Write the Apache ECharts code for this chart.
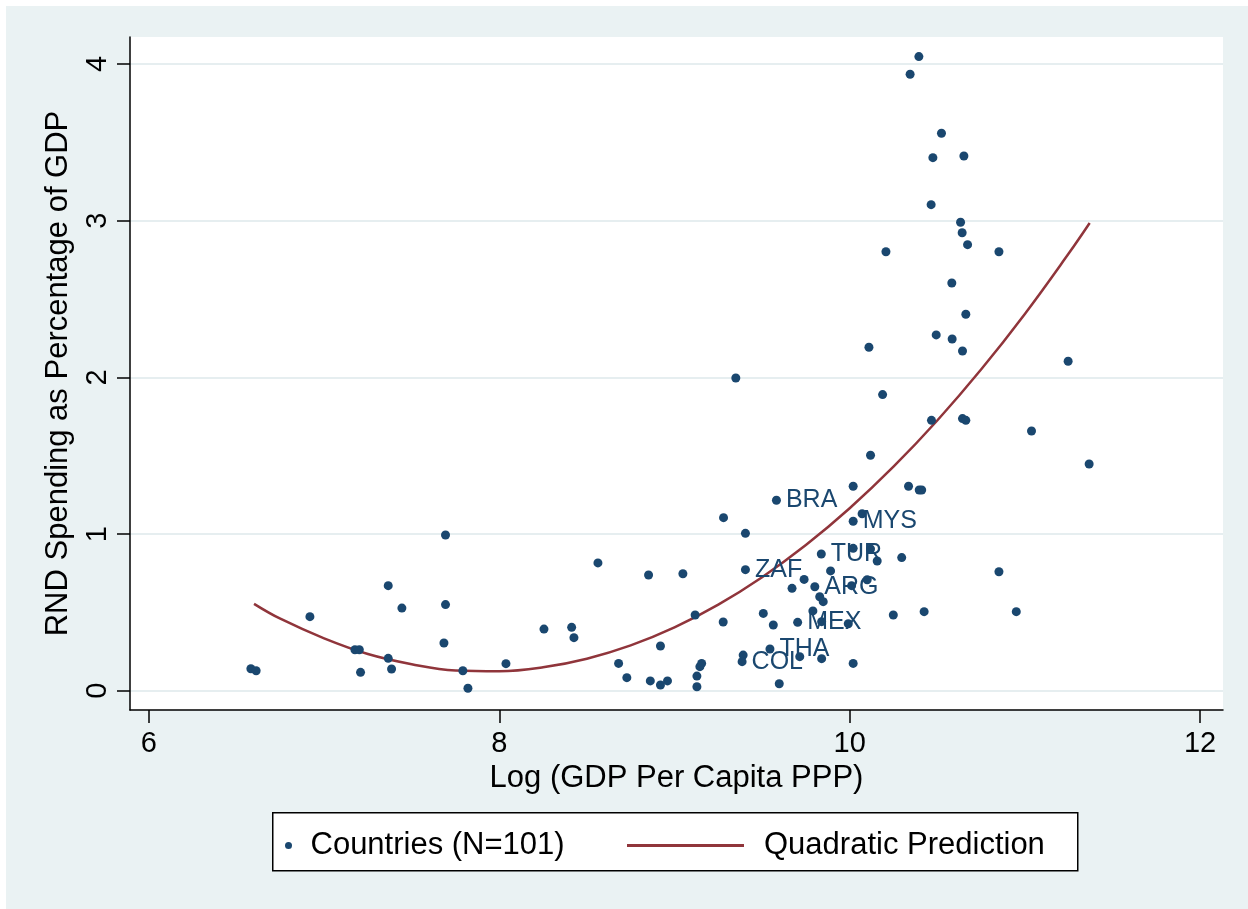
<!DOCTYPE html>
<html>
<head>
<meta charset="utf-8">
<script src="https://cdn.jsdelivr.net/npm/echarts@6/dist/echarts.min.js"></script>
<style>
  html, body { margin: 0; padding: 0; background: #ffffff; }
  #chart { position: absolute; left: 6px; top: 6px; width: 1242px; height: 903px; }
</style>
</head>
<body>
<div id="chart"></div>
<script>
// tick labels
var xTicks = [6, 8, 10, 12];
var yTicks = [0, 1, 2, 3, 4];

// labelled countries
var namedCodes = ['BRA', 'MYS', 'TUR', 'ZAF', 'ARG', 'MEX', 'THA', 'COL'];
var namedX = [9.582, 10.020, 9.838, 9.405, 9.801, 9.703, 9.545, 9.386];
var namedY = [1.216, 1.082, 0.873, 0.773, 0.664, 0.437, 0.267, 0.186];

// other countries (log gdp per capita, rnd % of gdp)
var otherX = [
  6.582, 6.612, 6.919, 7.176, 7.201, 7.208, 7.366, 7.366, 7.385, 7.444,
  7.684, 7.693, 7.693, 7.792, 7.821, 8.038, 8.255, 8.413, 8.426, 8.563,
  8.681, 8.728,
  8.852, 8.862, 8.920, 8.920, 8.960, 9.048, 9.118, 9.128, 9.128, 9.145,
  9.155, 9.278, 9.280, 9.350, 9.392, 9.405, 9.507, 9.564, 9.598, 9.671,
  9.715, 9.740, 9.790, 9.829, 9.840, 9.840, 9.849, 9.891, 9.992, 10.011,
  10.020, 10.020, 10.020, 10.071, 10.100, 10.119, 10.157, 10.249, 10.297,
  10.110, 10.119, 10.188, 10.207, 10.336, 10.345, 10.395, 10.397, 10.411, 10.425,
  10.465, 10.467, 10.475, 10.494, 10.524, 10.583, 10.585, 10.633, 10.642, 10.644,
  10.644, 10.652, 10.663, 10.663, 10.673, 10.852, 10.852, 10.951, 11.038, 11.247,
  11.367
];
var otherY = [
  0.141, 0.128, 0.473, 0.262, 0.262, 0.118, 0.671, 0.207, 0.139, 0.528,
  0.305, 0.994, 0.550, 0.128, 0.016, 0.173, 0.394, 0.405, 0.339, 0.816,
  0.175, 0.084,
  0.739, 0.063, 0.286, 0.037, 0.063, 0.747, 0.484, 0.094, 0.026, 0.154,
  0.175, 0.439, 1.105, 1.996, 0.228, 1.005, 0.494, 0.420, 0.045, 0.654,
  0.218, 0.711, 0.510, 0.600, 0.441, 0.205, 0.569, 0.765, 0.428, 0.671,
  0.909, 0.175, 1.305, 1.130, 0.709, 0.905, 0.828, 0.484, 0.850,
  2.192, 1.503, 1.890, 2.802, 1.305, 3.934, 4.047, 1.281, 1.281, 0.505,
  3.102, 1.726, 3.402, 2.271, 3.558, 2.602, 2.245, 2.990, 2.923, 2.168,
  1.737, 3.413, 2.403, 1.726, 2.847, 2.802, 0.760, 0.505, 1.658, 2.103,
  1.447
];

// quadratic prediction
var fitX = [6.6, 6.75, 7.0, 7.25, 7.5, 7.75, 8.0, 8.25, 8.5, 8.75, 9.0,
            9.25, 9.5, 9.75, 10.0, 10.25, 10.5, 10.75, 11.0, 11.25, 11.37];
var fitY = [0.555, 0.46, 0.335, 0.235, 0.17, 0.13, 0.125, 0.15, 0.205, 0.29, 0.405,
            0.55, 0.725, 0.93, 1.165, 1.43, 1.725, 2.05, 2.405, 2.79, 2.985];

var navy = '#1a476f';
var maroon = '#90353b';
var font = '"Liberation Sans", Arial, Helvetica, sans-serif';

var chart = echarts.init(document.getElementById('chart'));

var otherData = otherX.map(function (x, i) { return [x, otherY[i]]; });
var namedData = namedX.map(function (x, i) { return { value: [x, namedY[i]], code: namedCodes[i] }; });
var fitData = fitX.map(function (x, i) { return [x, fitY[i]]; });

var option = {
  backgroundColor: '#eaf2f3',
  animation: false,
  textStyle: { fontFamily: font },
  grid: {
    left: 124, top: 31, right: 25, bottom: 199,
    show: true, backgroundColor: '#ffffff', borderWidth: 0
  },
  xAxis: {
    type: 'value',
    min: 5.892, max: 12.131,
    name: 'Log (GDP Per Capita PPP)',
    nameLocation: 'middle',
    nameGap: 53,
    nameTextStyle: { fontSize: 31, color: '#000', fontFamily: font },
    axisLine: { show: true, onZero: false, lineStyle: { color: '#000', width: 1.5 } },
    axisTick: { show: true, length: 13, lineStyle: { color: '#000', width: 1.5 }, customValues: xTicks },
    axisLabel: { fontSize: 29, color: '#000', margin: 19, fontFamily: font, customValues: xTicks },
    splitLine: { show: false }
  },
  yAxis: {
    type: 'value',
    min: -0.1225, max: 4.172,
    name: 'RND Spending as Percentage of GDP',
    nameLocation: 'middle',
    nameGap: 56,
    nameTextStyle: { fontSize: 31, color: '#000', fontFamily: font },
    axisLine: { show: true, onZero: false, lineStyle: { color: '#000', width: 1.5 } },
    axisTick: { show: true, length: 13, lineStyle: { color: '#000', width: 1.5 }, customValues: yTicks },
    axisLabel: { fontSize: 29, color: '#000', margin: 18, rotate: 90, fontFamily: font, customValues: yTicks },
    splitLine: { show: true, lineStyle: { color: '#e6eef0', width: 2 } }
  },
  legend: [
    {
      data: [{ name: 'Countries (N=101)', icon: 'circle' }],
      left: 274, top: 819,
      itemWidth: 34, itemHeight: 7,
      textStyle: { fontSize: 31, color: '#000', fontFamily: font },
      selectedMode: false
    },
    {
      data: [{ name: 'Quadratic Prediction', icon: 'rect' }],
      left: 616, top: 819,
      itemWidth: 117, itemHeight: 3,
      textStyle: { fontSize: 31, color: '#000', fontFamily: font, padding: [0, 0, 0, 15] },
      selectedMode: false
    }
  ],
  graphic: [
    {
      type: 'rect', left: 266, top: 806, z: -1,
      shape: { width: 805, height: 58 },
      style: { fill: '#ffffff', stroke: '#000', lineWidth: 1.5 }
    }
  ],
  series: [
    {
      name: 'Countries (N=101)',
      type: 'scatter',
      symbol: 'circle',
      symbolSize: 9,
      itemStyle: { color: navy, opacity: 1 },
      data: otherData,
      z: 3
    },
    {
      name: 'Countries (N=101)',
      type: 'scatter',
      symbol: 'circle',
      symbolSize: 9,
      itemStyle: { color: navy, opacity: 1 },
      data: namedData,
      z: 3,
      label: {
        show: true,
        position: 'right',
        distance: 5,
        fontSize: 25,
        color: navy,
        fontFamily: font,
        formatter: function (p) { return p.data.code; }
      }
    },
    {
      name: 'Quadratic Prediction',
      type: 'line',
      data: fitData,
      smooth: 0.4,
      showSymbol: false,
      symbol: 'none',
      lineStyle: { color: maroon, width: 2.5 },
      itemStyle: { color: maroon },
      z: 2
    }
  ]
};

chart.setOption(option);
</script>
</body>
</html>
